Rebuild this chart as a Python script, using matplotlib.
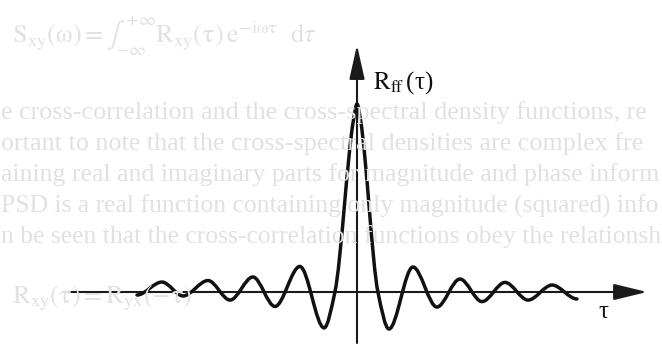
import numpy as np
import matplotlib
matplotlib.use("Agg")
import matplotlib.pyplot as plt
from matplotlib.path import Path
from matplotlib.patches import PathPatch, FancyArrowPatch

plt.rcParams["mathtext.fontset"] = "stix"
plt.rcParams["font.family"] = ["Liberation Serif", "DejaVu Serif"]

# Autocorrelation R_ff(tau): turning points of the damped oscillation
# (lag tau, normalised so the central peak is 1)
tau_nodes = [-9.36, -8.30, -7.40, -6.34, -5.40, -4.43, -3.49, -2.43, -1.40,
             -0.94, -0.15, 0.00, 0.15, 0.89,
             1.36, 2.38, 3.40, 4.38, 5.32, 6.30, 7.28, 8.30, 9.36]
r_nodes = [-0.016, 0.053, -0.021, 0.061, -0.043, 0.080, -0.077, 0.136, -0.191,
           0.000, 0.915, 1.000, 0.915, 0.000,
           -0.197, 0.133, -0.080, 0.069, -0.051, 0.051, -0.043, 0.037, -0.037]

axis_label_y = r"$\mathrm{R}_{\mathrm{ff}}\,$(τ)"
axis_label_x = "τ"

# faint lines of the page printed behind the figure
page_lines = [
    "e cross-correlation and the cross-spectral density functions, re",
    "ortant to note that the cross-spectral densities are complex fre",
    "aining real and imaginary parts for magnitude and phase inform",
    "PSD is a real function containing only magnitude (squared) info",
    "n be seen that the cross-correlation functions obey the relationsh",
]
page_eq_top = (r"$\mathrm{S_{xy}(\omega) = }\int_{-\infty}^{+\infty}"
               r"\mathrm{R_{xy}(\tau)\,e^{-i\omega\tau}}\ \ \mathrm{d}\tau$")
page_eq_bottom = r"$\mathrm{R_{xy}(\tau) = R_{yx}(-\tau)}$"

W, H = 662, 354
fig = plt.figure(figsize=(W / 100, H / 100), dpi=100)
fig.patch.set_facecolor("white")

# pixel anchors of the plot origin and scale
x0_px, y0_px = 357.0, 292.0
tau_px, r_px = 23.5, 188.0

ax = fig.add_axes([0, 0, 1, 1])
ax.set_xlim(-x0_px / tau_px, (W - x0_px) / tau_px)
ax.set_ylim((y0_px - H) / r_px, y0_px / r_px)
ax.axis("off")

# background page text, each line sized to run across the page width
faint = "#e1e1e1"
fig.text(12 / W, 1 - 36 / H, page_eq_top, fontsize=19, color=faint,
         va="center", ha="left")
renderer = fig.canvas.get_renderer()
line_y = [113, 144, 175, 206, 237]
for txt, yy in zip(page_lines, line_y):
    t = fig.text(1 / W, 1 - yy / H, txt, fontsize=18.8, color=faint,
                 va="center", ha="left")
    width = t.get_window_extent(renderer).width
    if width > W - 4:
        t.set_fontsize(18.8 * (W - 4) / width)
fig.text(12 / W, 1 - 298 / H, page_eq_bottom, fontsize=19, color=faint,
         va="center", ha="left")

# smooth curve through the turning points (monotone cubic tangents)
x = np.asarray(tau_nodes, float)
y = np.asarray(r_nodes, float)
h = np.diff(x)
d = np.diff(y) / h
m = np.zeros_like(x)
for i in range(1, len(x) - 1):
    if d[i - 1] * d[i] > 0:
        w1 = 2 * h[i] + h[i - 1]
        w2 = h[i] + 2 * h[i - 1]
        m[i] = (w1 + w2) / (w1 / d[i - 1] + w2 / d[i])
verts = [(x[0], y[0])]
codes = [Path.MOVETO]
for i in range(len(x) - 1):
    verts += [(x[i] + h[i] / 3, y[i] + m[i] * h[i] / 3),
              (x[i + 1] - h[i] / 3, y[i + 1] - m[i + 1] * h[i] / 3),
              (x[i + 1], y[i + 1])]
    codes += [Path.CURVE4] * 3
ax.add_patch(PathPatch(Path(verts, codes), fill=False, lw=2.5,
                       edgecolor="#111111", capstyle="round",
                       joinstyle="round", zorder=3))

# axes with arrowheads
ax.add_patch(FancyArrowPatch((-12.47, 0), (12.34, 0),
                             arrowstyle="-|>,head_length=20.5,head_width=5",
                             mutation_scale=1, lw=1.5, color="#1a1a1a",
                             shrinkA=0, shrinkB=0, zorder=2))
ax.add_patch(FancyArrowPatch((0, -0.271), (0, 1.314),
                             arrowstyle="-|>,head_length=21,head_width=4.7",
                             mutation_scale=1, lw=1.5, color="#1a1a1a",
                             shrinkA=0, shrinkB=0, zorder=2))

ax.text((373 - x0_px) / tau_px, (y0_px - 83) / r_px, axis_label_y,
        fontsize=18, ha="left", va="center", color="#111111")
ax.text((603 - x0_px) / tau_px, (y0_px - 312) / r_px, axis_label_x,
        fontsize=18, ha="center", va="center", color="#111111")

fig.savefig("out.png", dpi=100, facecolor="white")
